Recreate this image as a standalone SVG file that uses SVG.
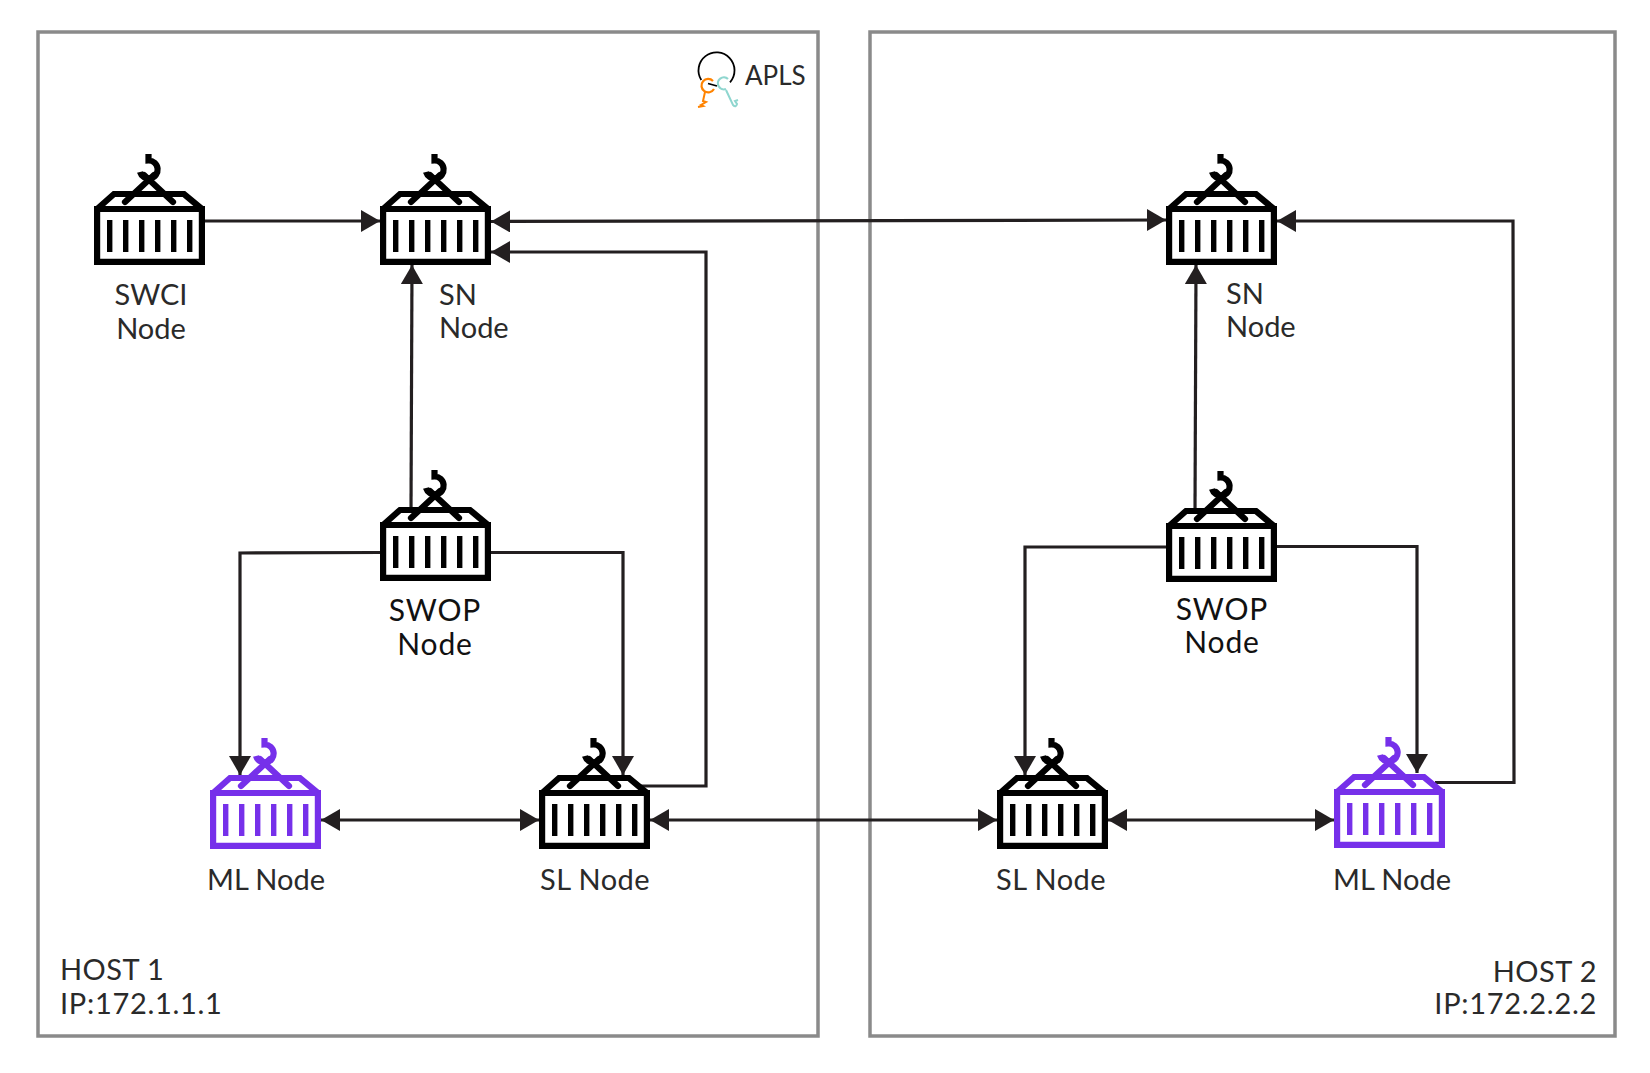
<svg xmlns="http://www.w3.org/2000/svg" width="1650" height="1073" viewBox="0 0 1650 1073">
<style>
.host{fill:none;stroke:#8a8a8a;stroke-width:3.5}
.lbl{font-family:"Lato","Noto Sans",sans-serif;font-size:29px;fill:#2a2a2a}
.big{font-size:30px;fill:#111;letter-spacing:.9px}
.m{text-anchor:middle}
.e{text-anchor:end}
.sp{letter-spacing:.45px}
.ip{letter-spacing:.7px}
.c{fill:none;stroke:#231f20;stroke-width:3.2}
.ic{fill:none;stroke:currentColor;stroke-width:6.200}
.bar{fill:currentColor}
.blk{color:#000}
.pur{color:#7630ea}
</style>
<defs>
<marker id="a" markerUnits="userSpaceOnUse" markerWidth="22" markerHeight="24" refX="19" refY="11" orient="auto-start-reverse"><path d="M0 0L19 11L0 22Z" fill="#231f20"/></marker>
<symbol id="crate" viewBox="0 0 111 111" width="111" height="111" overflow="visible">
<path class="ic" d="M3.100 107.900V55H107.900V107.900Z"/>
<path class="ic" d="M3.100 55L20 40H90L107.900 55"/>
<path class="ic" stroke-linecap="round" d="M31 48L60 21"/>
<path class="ic" stroke-linecap="round" d="M79 48L50 21"/>
<path class="ic" d="M54.500 0V6.500A9 9 0 1 1 46 18"/>
<g class="bar"><rect x="13" y="66" width="5.400" height="32"/><rect x="29" y="66" width="5.400" height="32"/><rect x="45" y="66" width="5.400" height="32"/><rect x="61" y="66" width="5.400" height="32"/><rect x="77" y="66" width="5.400" height="32"/><rect x="93" y="66" width="5.400" height="32"/></g>
</symbol>
</defs>
<g id="host1"><rect class="host" x="38" y="32" width="780" height="1004"/></g>
<g id="host2"><rect class="host" x="870" y="32" width="745" height="1004"/></g>
<g id="connectors">
<path class="c" marker-end="url(#a)" d="M205 221H380"/>
<path class="c" marker-start="url(#a)" marker-end="url(#a)" d="M491 221.500L1166 220"/>
<path class="c" marker-end="url(#a)" d="M411 510L412 265"/>
<path class="c" marker-end="url(#a)" d="M640 786H706V252H491"/>
<path class="c" marker-end="url(#a)" d="M380 552.500L240 553V775"/>
<path class="c" marker-end="url(#a)" d="M491 552.500H623V775"/>
<path class="c" marker-start="url(#a)" marker-end="url(#a)" d="M321 820H539"/>
<path class="c" marker-start="url(#a)" marker-end="url(#a)" d="M650 820H997"/>
<path class="c" marker-end="url(#a)" d="M1195 510L1196 265"/>
<path class="c" marker-end="url(#a)" d="M1166 547H1025V775"/>
<path class="c" marker-end="url(#a)" d="M1277 546.500H1417V773"/>
<path class="c" marker-end="url(#a)" d="M1435 782.500H1514L1513 221H1277"/>
<path class="c" marker-start="url(#a)" marker-end="url(#a)" d="M1108 820H1334"/>
</g>
<g id="swci" class="blk"><use href="#crate" x="94" y="154"/><text class="lbl m" x="151" y="305">SWCI</text><text class="lbl m" x="151" y="339">Node</text></g>
<g id="sn1" class="blk"><use href="#crate" x="380" y="154"/><text class="lbl" x="439" y="305">SN</text><text class="lbl" x="439" y="338">Node</text></g>
<g id="swop1" class="blk"><use href="#crate" x="380" y="470"/><text class="lbl big m" x="435" y="621">SWOP</text><text class="lbl big m" x="435" y="655">Node</text></g>
<g id="ml1" class="pur"><use href="#crate" x="210" y="738"/><text class="lbl m" x="266" y="890">ML Node</text></g>
<g id="sl1" class="blk"><use href="#crate" x="539" y="738"/><text class="lbl m sp" x="595" y="890">SL Node</text></g>
<g id="sn2" class="blk"><use href="#crate" x="1166" y="154"/><text class="lbl" x="1226" y="304">SN</text><text class="lbl" x="1226" y="337">Node</text></g>
<g id="swop2" class="blk"><use href="#crate" x="1166" y="471"/><text class="lbl big m" x="1222" y="620">SWOP</text><text class="lbl big m" x="1222" y="653">Node</text></g>
<g id="sl2" class="blk"><use href="#crate" x="997" y="738"/><text class="lbl m sp" x="1051" y="890">SL Node</text></g>
<g id="ml2" class="pur"><use href="#crate" x="1334" y="737"/><text class="lbl m" x="1392" y="890">ML Node</text></g>
<g id="apls"><path d="M701.300 80A18 18 0 1 1 730 82.300M708 83.500L717 86" fill="none" stroke="#000" stroke-width="1.800"/>
<path d="M713 81A6.700 6.700 0 1 0 714 89" fill="none" stroke="#ff8300" stroke-width="2.200"/>
<path d="M705 92L703 101L706 102L701 105L703 106L698 107" fill="none" stroke="#ff8300" stroke-width="2"/>
<path d="M728 79A6 6 0 1 0 726 89" fill="none" stroke="#8fd6cf" stroke-width="2.200"/>
<path d="M726 90L733 105Q736 108 737 104L735 101L738 100" fill="none" stroke="#8fd6cf" stroke-width="2"/>
<text class="lbl" x="745" y="85" style="font-size:26px">APLS</text></g>
<g id="host1-label"><text class="lbl sp" x="60" y="980">HOST 1</text><text class="lbl ip" x="60" y="1014">IP:172.1.1.1</text></g>
<g id="host2-label"><text class="lbl e sp" x="1597" y="982">HOST 2</text><text class="lbl e ip" x="1597" y="1014">IP:172.2.2.2</text></g>
</svg>
